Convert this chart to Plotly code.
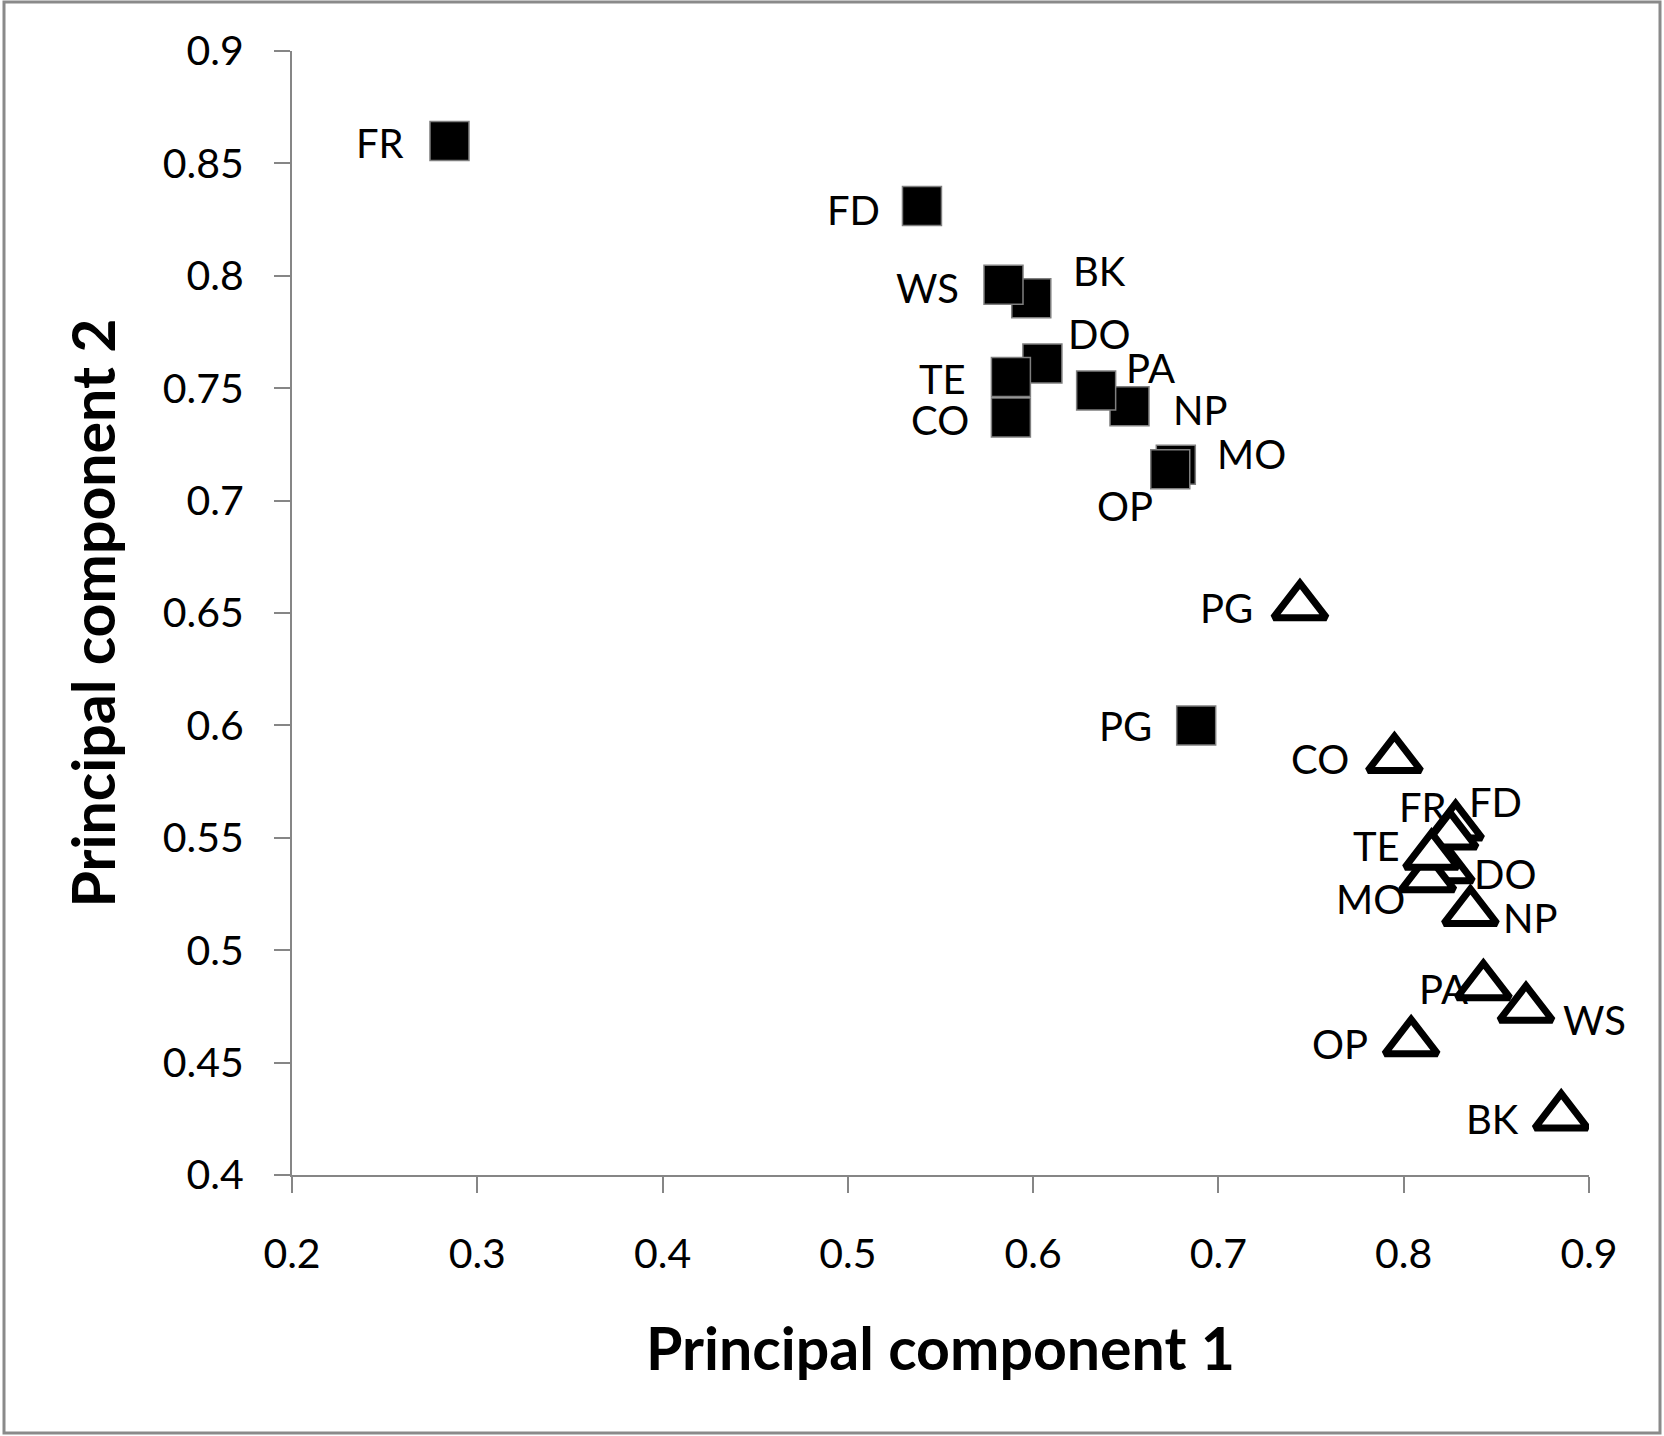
import plotly.graph_objects as go

# ---- data ----
codes = ["BK", "CO", "DO", "FD", "FR", "MO", "NP", "OP", "PA", "PG", "TE", "WS"]

sq_pc1 = [0.599, 0.588, 0.605, 0.540, 0.285, 0.677, 0.652, 0.674, 0.634, 0.688, 0.588, 0.584]
sq_pc2 = [0.790, 0.737, 0.761, 0.831, 0.860, 0.716, 0.742, 0.714, 0.749, 0.600, 0.755, 0.796]

tri_pc1 = [0.885, 0.795, 0.823, 0.828, 0.825, 0.813, 0.836, 0.804, 0.843, 0.744, 0.815, 0.866]
tri_pc2 = [0.426, 0.585, 0.536, 0.555, 0.551, 0.532, 0.517, 0.459, 0.484, 0.653, 0.542, 0.474]

x_tickvals = [0.2, 0.3, 0.4, 0.5, 0.6, 0.7, 0.8, 0.9]
x_ticktext = ["0.2", "0.3", "0.4", "0.5", "0.6", "0.7", "0.8", "0.9"]
y_tickvals = [0.4, 0.45, 0.5, 0.55, 0.6, 0.65, 0.7, 0.75, 0.8, 0.85, 0.9]
y_ticktext = ["0.4", "0.45", "0.5", "0.55", "0.6", "0.65", "0.7", "0.75", "0.8", "0.85", "0.9"]

x_title = "Principal component 1"
y_title = "Principal component 2"

# ---- label placement (pixel offsets from each point: dx right, dy down) ----
sq_label_offsets = {
    "BK": (68, -27), "CO": (-71, 3), "DO": (57, -29), "FD": (-68, 4),
    "FR": (-69, 2), "MO": (76, -11), "NP": (71, 4), "OP": (-45, 37),
    "PA": (54, -22), "PG": (-71, 1), "TE": (-68, 2), "WS": (-76, 3),
}
tri_label_offsets = {
    "BK": (-69, 2), "CO": (-74, 0), "DO": (59, 5), "FD": (40, -25),
    "FR": (-27, -29), "MO": (-57, 21), "NP": (60, 6), "OP": (-71, 2),
    "PA": (-40, 3), "PG": (-73, 2), "TE": (-55, -10), "WS": (68, 11),
}

FONT = "Lato, 'Open Sans', sans-serif"
AXIS_GRAY = "#868686"

fig = go.Figure()

fig.add_trace(go.Scatter(
    x=sq_pc1, y=sq_pc2, mode="markers", name="PC set A",
    marker=dict(symbol="square", size=39, color="black",
                line=dict(color="#7f7f7f", width=1.5)),
    hoverinfo="x+y", showlegend=False,
))
fig.add_trace(go.Scatter(
    x=tri_pc1, y=tri_pc2, mode="markers", name="PC set B",
    marker=dict(symbol="triangle-up", size=46, color="white",
                line=dict(color="black", width=7)),
    hoverinfo="x+y", showlegend=False,
))

annotations = []
for c, xv, yv in zip(codes, sq_pc1, sq_pc2):
    dx, dy = sq_label_offsets[c]
    annotations.append(dict(x=xv, y=yv, xref="x", yref="y", text=c, showarrow=False,
                            xshift=dx, yshift=-dy,
                            font=dict(family=FONT, size=40, color="black")))
for c, xv, yv in zip(codes, tri_pc1, tri_pc2):
    dx, dy = tri_label_offsets[c]
    annotations.append(dict(x=xv, y=yv, xref="x", yref="y", text=c, showarrow=False,
                            xshift=dx, yshift=-dy,
                            font=dict(family=FONT, size=40, color="black")))

W, H = 1664, 1436
ML, MR, MT, MB = 292, 75, 51, 261
pw, ph = W - ML - MR, H - MT - MB

fig.update_layout(
    width=W, height=H,
    margin=dict(l=ML, r=MR, t=MT, b=MB, pad=0),
    paper_bgcolor="white", plot_bgcolor="white",
    font=dict(family=FONT, size=40, color="black"),
    annotations=annotations,
    shapes=[dict(type="rect", xref="paper", yref="paper",
                 x0=(4 - ML) / pw, x1=(W - 4 - ML) / pw,
                 y0=-(H - 3 - MT - ph) / ph, y1=(MT + ph - 2) / ph,
                 line=dict(color="#8a8a8a", width=3), fillcolor="rgba(0,0,0,0)",
                 layer="below")],
)

fig.update_xaxes(
    range=[0.2, 0.9], tickvals=x_tickvals, ticktext=x_ticktext,
    showgrid=False, zeroline=False,
    showline=True, linecolor=AXIS_GRAY, linewidth=2,
    ticks="outside", ticklen=16, tickwidth=2, tickcolor=AXIS_GRAY,
    ticklabelstandoff=26,
    tickfont=dict(family=FONT, size=41, color="black"),
    title=dict(text="<b>" + x_title + "</b>", standoff=52,
               font=dict(family=FONT, size=59, color="black")),
)
fig.update_yaxes(
    range=[0.4, 0.9], tickvals=y_tickvals, ticktext=y_ticktext,
    showgrid=False, zeroline=False,
    showline=True, linecolor=AXIS_GRAY, linewidth=2,
    ticks="outside", ticklen=16, tickwidth=2, tickcolor=AXIS_GRAY,
    ticklabelstandoff=22,
    tickfont=dict(family=FONT, size=41, color="black"),
    title=dict(text="<b>" + y_title + "</b>", standoff=28,
               font=dict(family=FONT, size=59, color="black")),
)

fig.write_html("out.html", config={"displayModeBar": False},
               post_script="document.body.style.margin='0';")
